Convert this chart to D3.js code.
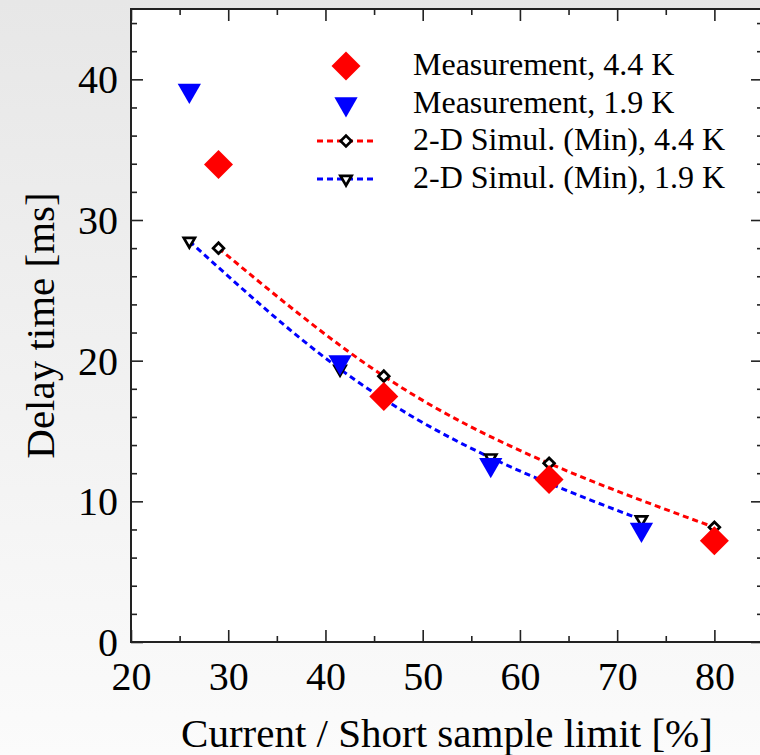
<!DOCTYPE html>
<html><head><meta charset="utf-8">
<script src="https://cdn.jsdelivr.net/npm/d3@7"></script>
<style>body{margin:0;background:#fff;} svg{display:block;}</style>
</head><body>
<svg id="c" width="760" height="755"></svg>
<script>
// ---- data ----
const meas44X = [29, 46, 63, 80];
const meas44Y = [33.95, 17.45, 11.55, 7.2];
const meas19X = [26, 41.5, 57, 72.5];
const meas19Y = [39.2, 19.9, 12.6, 8.0];
const sim44X = [29, 46, 63, 80];
const sim44Y = [28.0, 18.9, 12.7, 8.15];
const sim19X = [26, 41.5, 57, 72.5];
const sim19Y = [28.5, 19.4, 13.1, 8.7];
const xTicks = [20, 30, 40, 50, 60, 70, 80];
const xMinor = [25, 35, 45, 55, 65, 75, 85];
const yTicks = [0, 10, 20, 30, 40];
const yMinor = [2, 4, 6, 8, 12, 14, 16, 18, 22, 24, 26, 28, 32, 34, 36, 38, 42, 44];
const legendLabels = ["Measurement, 4.4 K", "Measurement, 1.9 K", "2-D Simul. (Min), 4.4 K", "2-D Simul. (Min), 1.9 K"];
const xTitle = "Current / Short sample limit [%]";
const yTitle = "Delay time [ms]";

const FONT = "'Liberation Serif','Times New Roman',serif";
const svg = d3.select("#c");
const L = 131, R = 763, T = 9, B = 642;
const x = d3.scaleLinear().domain([20, 85]).range([L, R]);
const y = d3.scaleLinear().domain([0, 45]).range([B, T]);

// background
const defs = svg.append("defs");
const g = defs.append("linearGradient").attr("id", "bg").attr("x1", 0).attr("y1", 0).attr("x2", 0).attr("y2", 1);
g.append("stop").attr("offset", "0%").attr("stop-color", "#e7e7e7");
g.append("stop").attr("offset", "100%").attr("stop-color", "#fbfbfb");
svg.append("rect").attr("width", 760).attr("height", 755).attr("fill", "url(#bg)");
svg.append("rect").attr("x", L).attr("y", T).attr("width", R - L).attr("height", B - T).attr("fill", "#fff");
defs.append("clipPath").attr("id", "clip").append("rect").attr("x", L).attr("y", T).attr("width", R - L).attr("height", B - T);

const plot = svg.append("g").attr("clip-path", "url(#clip)");
const zip = (xs, ys) => xs.map((v, i) => [v, ys[i]]);
const line = d3.line().x(d => x(d[0])).y(d => y(d[1])).curve(d3.curveNatural);

plot.append("path").datum(zip(sim44X, sim44Y)).attr("d", line)
  .attr("fill", "none").attr("stroke", "#ff0000").attr("stroke-width", 3).attr("stroke-dasharray", "6,4");
plot.append("path").datum(zip(sim19X, sim19Y)).attr("d", line)
  .attr("fill", "none").attr("stroke", "#0000ff").attr("stroke-width", 3).attr("stroke-dasharray", "6,4");

const diamondBig = d3.symbol().type(d3.symbolSquare).size(420);
const diamondSmall = d3.symbol().type(d3.symbolSquare).size(58);
const triBig = d3.symbol().type(d3.symbolTriangle).size(235);
const triSmall = d3.symbol().type(d3.symbolTriangle).size(54);

// simulation markers
plot.selectAll(".s44").data(zip(sim44X, sim44Y)).join("path")
  .attr("d", diamondSmall).attr("transform", d => `translate(${x(d[0])},${y(d[1])}) rotate(45)`)
  .attr("fill", "#fff").attr("stroke", "#000").attr("stroke-width", 2.7);
plot.selectAll(".s19").data(zip(sim19X, sim19Y)).join("path")
  .attr("d", triSmall).attr("transform", d => `translate(${x(d[0])},${y(d[1])}) rotate(180)`)
  .attr("fill", "#fff").attr("stroke", "#000").attr("stroke-width", 2.7);

// measurement markers
plot.selectAll(".m19").data(zip(meas19X, meas19Y)).join("path")
  .attr("d", triBig).attr("transform", d => `translate(${x(d[0])},${y(d[1])}) rotate(180)`)
  .attr("fill", "#0000ff");
plot.selectAll(".m44").data(zip(meas44X, meas44Y)).join("path")
  .attr("d", diamondBig).attr("transform", d => `translate(${x(d[0])},${y(d[1])}) rotate(45)`)
  .attr("fill", "#ff0000");

// axes
const axStroke = "#222";
function styleAxis(sel) {
  sel.select(".domain").remove();
  sel.selectAll("line").attr("stroke", axStroke).attr("stroke-width", 1.6);
  sel.selectAll("text").attr("font-family", FONT).attr("font-size", 40).attr("fill", "#000");
}
svg.append("g").attr("transform", `translate(${L},0)`)
  .call(d3.axisLeft(y).tickValues(yTicks).tickSizeInner(-12).tickSizeOuter(0).tickPadding(13).tickFormat(d3.format("d")))
  .call(styleAxis).selectAll("text").attr("dy", "0.34em");
svg.append("g").attr("transform", `translate(${L},0)`)
  .call(d3.axisLeft(y).tickValues(yMinor).tickSizeInner(-6).tickSizeOuter(0).tickFormat(""))
  .call(styleAxis);
svg.append("g").attr("transform", `translate(${R},0)`)
  .call(d3.axisRight(y).tickValues(yTicks).tickSizeInner(-12).tickSizeOuter(0).tickFormat(""))
  .call(styleAxis);
svg.append("g").attr("transform", `translate(${R},0)`)
  .call(d3.axisRight(y).tickValues(yMinor).tickSizeInner(-6).tickSizeOuter(0).tickFormat(""))
  .call(styleAxis);
svg.append("g").attr("transform", `translate(0,${B})`)
  .call(d3.axisBottom(x).tickValues(xTicks).tickSizeInner(-12).tickSizeOuter(0).tickPadding(20).tickFormat(d3.format("d")))
  .call(styleAxis).selectAll("text").attr("dy", "0").attr("y", 48);
svg.append("g").attr("transform", `translate(0,${B})`)
  .call(d3.axisBottom(x).tickValues(xMinor).tickSizeInner(-6).tickSizeOuter(0).tickFormat(""))
  .call(styleAxis);
svg.append("g").attr("transform", `translate(0,${T})`)
  .call(d3.axisTop(x).tickValues(xTicks).tickSizeInner(-12).tickSizeOuter(0).tickFormat(""))
  .call(styleAxis);
svg.append("g").attr("transform", `translate(0,${T})`)
  .call(d3.axisTop(x).tickValues(xMinor).tickSizeInner(-6).tickSizeOuter(0).tickFormat(""))
  .call(styleAxis);

// frame
svg.append("rect").attr("x", L).attr("y", T).attr("width", R - L).attr("height", B - T)
  .attr("fill", "none").attr("stroke", axStroke).attr("stroke-width", 2);

// titles
svg.append("text").attr("x", (L + R) / 2).attr("y", 747).attr("text-anchor", "middle")
  .attr("font-family", FONT).attr("font-size", 41).text(xTitle);
svg.append("text").attr("transform", `translate(54,${(T + B) / 2}) rotate(-90)`).attr("text-anchor", "middle")
  .attr("font-family", FONT).attr("font-size", 41).text(yTitle);

// legend
const lg = svg.append("g");
const symX = 346, txtX = 413;
const rowBase = [75, 112.5, 150, 187.5];
legendLabels.forEach((t, i) => {
  lg.append("text").attr("x", txtX).attr("y", rowBase[i]).attr("font-family", FONT).attr("font-size", 32).text(t);
});
lg.append("path").attr("d", diamondBig).attr("transform", `translate(${symX},66) rotate(45)`).attr("fill", "#ff0000");
lg.append("path").attr("d", triBig).attr("transform", `translate(${symX},104) rotate(180)`).attr("fill", "#0000ff");
lg.append("line").attr("x1", 317).attr("x2", 376).attr("y1", 141).attr("y2", 141)
  .attr("stroke", "#ff0000").attr("stroke-width", 3).attr("stroke-dasharray", "6,4");
lg.append("path").attr("d", diamondSmall).attr("transform", `translate(${symX},141) rotate(45)`)
  .attr("fill", "#fff").attr("stroke", "#000").attr("stroke-width", 2.7);
lg.append("line").attr("x1", 317).attr("x2", 376).attr("y1", 179).attr("y2", 179)
  .attr("stroke", "#0000ff").attr("stroke-width", 3).attr("stroke-dasharray", "6,4");
lg.append("path").attr("d", triSmall).attr("transform", `translate(${symX},179) rotate(180)`)
  .attr("fill", "#fff").attr("stroke", "#000").attr("stroke-width", 2.7);
</script>
</body></html>
